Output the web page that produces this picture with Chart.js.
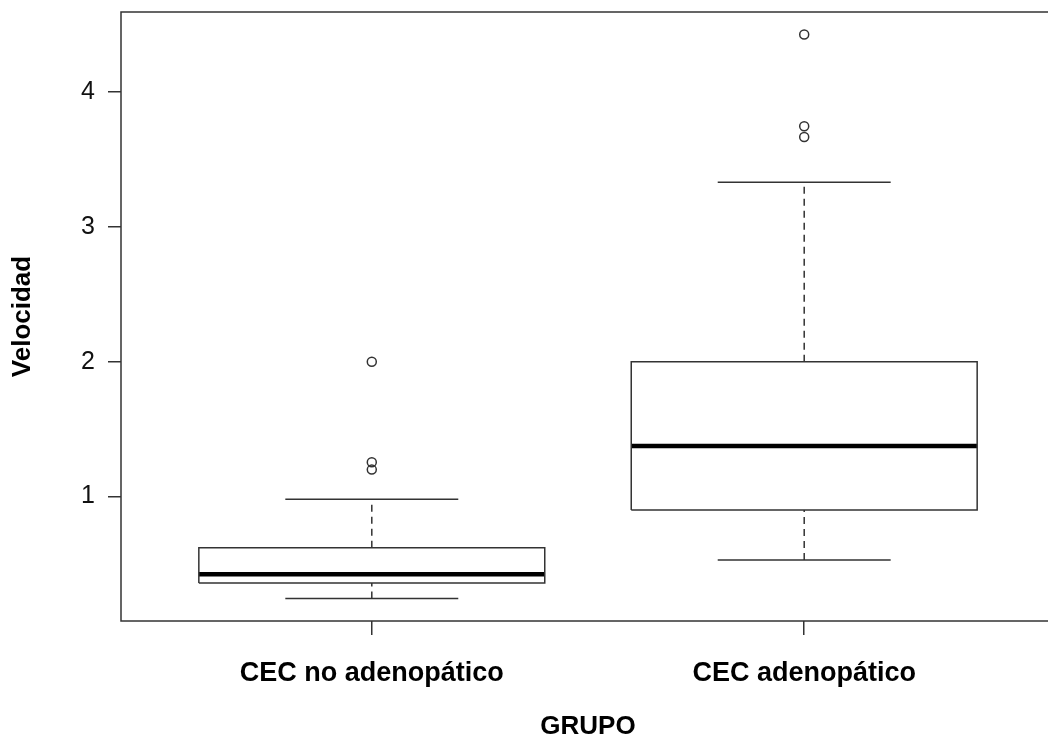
<!DOCTYPE html>
<html>
<head>
<meta charset="utf-8">
<script src="https://cdn.jsdelivr.net/npm/chart.js@4"></script>
<style>
	html, body { margin: 0; padding: 0; background: #fff; overflow: hidden; }
	.container { width: 1048px; height: 740px; overflow: hidden; }
</style>
</head>
<body>
<div class="container">
	<canvas id="chart-1" width="1061" height="740"></canvas>
</div>
<script>
/* ----- Data ----- */

// Groups
const groups = ['CEC no adenopático', 'CEC adenopático'];

// Box statistics per group
const lowerWhisker = [0.245, 0.53];
const q1 = [0.36, 0.90];
const median = [0.425, 1.375];
const q3 = [0.62, 2.0];
const upperWhisker = [0.98, 3.33];

// Outliers per group
const outliers = [[2.0, 1.255, 1.20], [4.425, 3.745, 3.665]];

// Y Tick Labels
const yTicks = [1, 2, 3, 4];

/* ----- Build Datasets ----- */

const boxHalf = 0.4;
const capHalf = 0.2;
const gap = { x: null, y: null };

const boxPoints = groups.flatMap((g, i) => [
	{ x: i + 1 - boxHalf, y: q1[i] }, { x: i + 1 + boxHalf, y: q1[i] },
	{ x: i + 1 + boxHalf, y: q3[i] }, { x: i + 1 - boxHalf, y: q3[i] },
	{ x: i + 1 - boxHalf, y: q1[i] }, gap
]);
const medianPoints = groups.flatMap((g, i) => [
	{ x: i + 1 - boxHalf, y: median[i] }, { x: i + 1 + boxHalf, y: median[i] }, gap
]);
const whiskerPoints = groups.flatMap((g, i) => [
	{ x: i + 1, y: q3[i] }, { x: i + 1, y: upperWhisker[i] }, gap,
	{ x: i + 1, y: lowerWhisker[i] }, { x: i + 1, y: q1[i] }, gap
]);
const capPoints = groups.flatMap((g, i) => [
	{ x: i + 1 - capHalf, y: upperWhisker[i] }, { x: i + 1 + capHalf, y: upperWhisker[i] }, gap,
	{ x: i + 1 - capHalf, y: lowerWhisker[i] }, { x: i + 1 + capHalf, y: lowerWhisker[i] }, gap
]);
const outlierPoints = outliers.flatMap((list, i) => list.map(v => ({ x: i + 1, y: v })));

// y range like R (data range + 4%)
const allValues = [...lowerWhisker, ...upperWhisker, ...outliers.flat()];
const yLo = Math.min(...allValues);
const yHi = Math.max(...allValues);
const yPad = (yHi - yLo) * 0.04;

const lineSet = (data, extra) => Object.assign({
	data,
	showLine: true,
	borderColor: '#333',
	borderWidth: 1.5,
	pointRadius: 0,
	fill: false,
	tension: 0,
	spanGaps: false
}, extra);

/* ----- Frame Plugin ----- */

const framePlugin = {
	id: 'frame',
	afterDatasetsDraw(chart) {
		const { ctx, chartArea } = chart;
		ctx.save();
		ctx.strokeStyle = '#333';
		ctx.lineWidth = 1.5;
		ctx.strokeRect(chartArea.left, chartArea.top, chartArea.right - chartArea.left, chartArea.bottom - chartArea.top);
		ctx.restore();
	}
};

/* ----- Chart ----- */

const font = 'Liberation Sans, Arial, Helvetica, sans-serif';

new Chart(document.getElementById('chart-1'), {
	type: 'scatter',
	data: {
		datasets: [
			lineSet(whiskerPoints, { borderDash: [7, 5] }),
			lineSet(capPoints),
			lineSet(boxPoints),
			lineSet(medianPoints, { borderColor: '#000', borderWidth: 4.5 }),
			{
				data: outlierPoints,
				showLine: false,
				pointRadius: 4.5,
				pointBorderWidth: 1.5,
				pointBorderColor: '#333',
				pointBackgroundColor: 'rgba(0,0,0,0)'
			}
		]
	},
	options: {
		responsive: false,
		animation: false,
		events: [],
		layout: { padding: { top: 12, left: 0, right: 0, bottom: 0 } },
		plugins: {
			legend: { display: false },
			tooltip: { enabled: false }
		},
		scales: {
			x: {
				type: 'linear',
				min: 0.42,
				max: 2.58,
				afterBuildTicks: scale => { scale.ticks = groups.map((g, i) => ({ value: i + 1 })); },
				afterFit: scale => { scale.height = 119; scale.paddingLeft = 0; scale.paddingRight = 0; },
				ticks: {
					callback: value => groups[value - 1],
					maxRotation: 0,
					autoSkip: false,
					padding: 25,
					color: '#000',
					font: { family: font, size: 27, weight: 'bold', lineHeight: 1 }
				},
				grid: { drawOnChartArea: false, drawTicks: true, tickLength: 14, color: '#333', lineWidth: 1.5 },
				border: { display: false },
				title: {
					display: true,
					text: 'GRUPO',
					color: '#000',
					padding: { top: 0, bottom: 0 },
					font: { family: font, size: 26, weight: 'bold', lineHeight: 1 }
				}
			},
			y: {
				min: yLo - yPad,
				max: yHi + yPad,
				afterBuildTicks: scale => { scale.ticks = yTicks.map(v => ({ value: v })); },
				afterFit: scale => { scale.width = 121; scale.paddingTop = 0; scale.paddingBottom = 0; },
				ticks: {
					padding: 13,
					color: '#111',
					font: { family: font, size: 25, lineHeight: 1 }
				},
				grid: { drawOnChartArea: false, drawTicks: true, tickLength: 13, color: '#333', lineWidth: 1.5 },
				border: { display: false },
				title: {
					display: true,
					text: 'Velocidad',
					color: '#000',
					padding: { top: 10, bottom: 0 },
					font: { family: font, size: 26, weight: 'bold', lineHeight: 1 }
				}
			}
		}
	},
	plugins: [framePlugin]
});
</script>
</body>
</html>
